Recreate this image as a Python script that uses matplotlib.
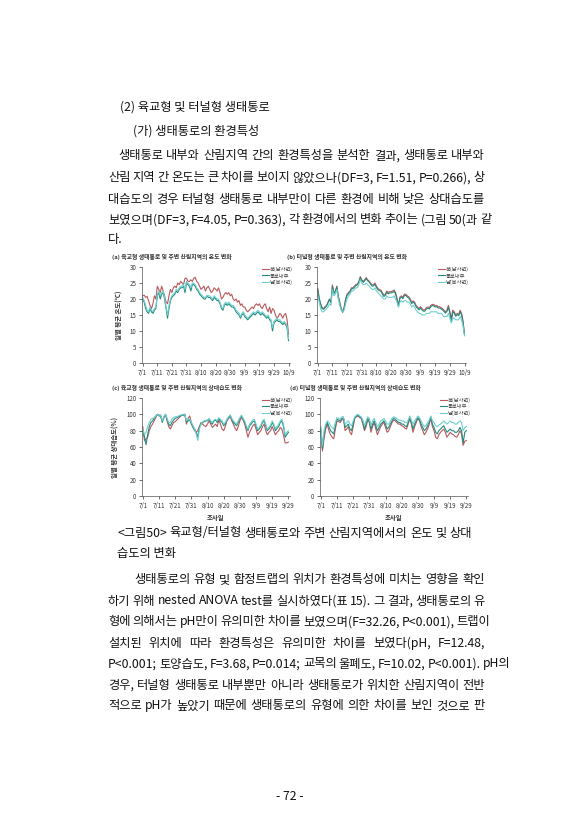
import matplotlib
matplotlib.use('Agg')
import matplotlib.pyplot as plt
import numpy as np

plt.rcParams['font.family'] = ['Noto Sans CJK KR', 'DejaVu Sans']

# ---- data ----
temp_ticks = ['7/1', '7/11', '7/21', '7/31', '8/10', '8/20', '8/30', '9/9', '9/19', '9/29', '10/9']
rh_ticks = ['7/1', '7/11', '7/21', '7/31', '8/10', '8/20', '8/30', '9/9', '9/19', '9/29']
series_names = ['북(남사면)', '통로내부', '남(북사면)']

# (a) overpass type, daily mean temperature 7/1 - 10/10
a_north = [21, 21.2, 20.5, 20.8, 19.5, 18, 17, 18.5, 21, 20,
           24, 23, 22, 24, 22.5, 21, 19, 18.5, 21, 23,
           22, 23.5, 24, 23.5, 25, 24.5, 25.5, 25, 24.5, 26.5,
           26.5, 25.5, 25.5, 26, 25.5, 26.5, 26.8, 25.5, 25, 24,
           23, 23.5, 24, 22.5, 23.5, 24, 23, 22, 22.5, 23.5,
           23, 22.5, 23.5, 22, 20, 20.5, 21.5, 22, 21.5, 22,
           21, 21.5, 20, 19.5, 20, 19, 19.5, 18, 18.5, 17.5,
           17.5, 16.5, 16, 16.5, 17, 17.5, 17, 18, 18.5, 18,
           18.5, 17.5, 17, 18, 18.5, 17, 16, 17.5, 15.5, 17,
           16.5, 15, 14, 14.5, 15.5, 15, 14, 15, 15.5, 13.5, 9]
a_inside = [20, 19, 17, 16, 15.5, 17, 16, 15.5, 16.5, 17,
            21, 22, 20, 21.5, 22, 20, 17, 14, 17, 19.5,
            20.5, 21, 21.5, 22.5, 22, 23, 23.5, 23.5, 24, 22,
            25, 24.5, 24, 22.5, 24.5, 24.5, 24, 23, 22.5, 21.5,
            21, 20.5, 20, 20, 21, 20.5, 20.5, 20, 19.5, 20.5,
            20, 19.5, 19.5, 18.5, 17, 16.5, 18, 18.5, 18, 18.5,
            18, 17.5, 17.5, 17, 16, 15.5, 15, 14, 15, 15.5,
            14.5, 14, 13.5, 14, 14.5, 15, 15.5, 15, 15.5, 16,
            15.5, 15, 15.5, 15, 14.5, 14, 14.5, 13.5, 13, 10,
            12.5, 13, 13.5, 13, 13, 12.5, 12, 12.5, 12, 11, 7]
a_south = [20.5, 19.5, 18, 16.5, 16, 17.5, 16.5, 16, 17, 17.5,
           21.5, 22.5, 21, 22, 22.5, 20.5, 17.5, 15, 18, 20,
           21, 21.5, 22, 23, 22.5, 23.5, 24, 24, 24.5, 23,
           25.5, 25, 24.5, 23.5, 25, 25, 24.5, 23.5, 23, 22,
           21.5, 21, 20.5, 20.5, 21, 21, 21, 20.5, 20, 21,
           20.5, 20, 20, 19, 17.5, 17, 18.5, 19, 18.5, 19,
           18.5, 18, 18, 17.5, 16.5, 16, 15.5, 14.5, 15.5, 16,
           15, 14.5, 14, 14.5, 15, 15.5, 16, 15.5, 16, 16.5,
           16, 15.5, 16, 15.5, 15, 14.5, 15, 14, 13.5, 11,
           13, 13.5, 14, 13.5, 13.5, 13, 12.5, 13, 12.5, 11.5, 7.5]

# (b) tunnel type, daily mean temperature 7/1 - 10/10
b_north = [23.3, 20.2, 18.5, 17.3, 17, 17.6, 18, 19, 20, 19,
           24.4, 22, 22.5, 24, 21, 19, 17, 16, 17.5, 20,
           21.5, 22, 22.5, 23.5, 23.5, 24, 24.5, 24.7, 25.5, 27,
           26, 25.5, 26, 26.7, 26, 25.6, 25, 24.4, 24.5, 25,
           24, 23.3, 23, 22.8, 22, 21.2, 21.5, 22.5, 22, 22.3,
           22.3, 22.5, 22.8, 22, 20.2, 18, 20.6, 21, 20.5, 21.5,
           21.5, 21, 20.7, 20, 19, 19.4, 19, 18, 17.5, 17,
           17.6, 17, 16.6, 16.6, 17.3, 17.5, 17.3, 18, 18.3, 18.3,
           17.9, 18, 17.6, 17.6, 17.3, 17, 16.5, 16, 16.5, 18,
           16, 14, 16.5, 16, 15, 15.5, 15.2, 16.5, 15.5, 13, 9]
b_inside = [23, 20, 18.3, 17, 16.8, 17.3, 17.8, 18.8, 19.8, 18.8,
            24, 21.7, 22.2, 23.8, 20.7, 18.7, 16.8, 15.8, 17.2, 19.7,
            21.2, 21.7, 22.2, 23.2, 23.2, 23.7, 24.2, 24.4, 25.2, 26.7,
            25.7, 25.2, 25.7, 26.4, 25.7, 25.3, 24.7, 24, 24.1, 24.6,
            23.6, 22.9, 22.6, 22.4, 21.6, 20.8, 21.1, 22.1, 21.6, 21.9,
            21.9, 22.1, 22.4, 21.6, 19.8, 17.6, 20.2, 20.6, 20.1, 21.1,
            21.1, 20.6, 20.3, 19.6, 18.6, 19, 18.6, 17.6, 17.1, 16.6,
            17.2, 16.6, 16.2, 16.2, 16.9, 17.1, 16.9, 17.6, 17.9, 17.9,
            17.5, 17.6, 17.2, 17.2, 16.9, 16.6, 16.1, 15.6, 16.1, 17.5,
            15.6, 13, 16, 15.6, 14.6, 15.1, 14.8, 16, 15, 12.5, 8.7]
b_south = [21, 19, 17, 16, 16, 16.5, 17, 17.5, 18.5, 18,
           23, 21, 21.5, 23, 20, 18, 16.5, 16, 16.5, 18.5,
           20, 21, 21.5, 22.5, 22.5, 23, 23.5, 23.5, 24.5, 26,
           25, 24.5, 24.5, 25, 24.5, 24, 23.5, 23, 23, 23.5,
           22.5, 22, 21.5, 21, 20.5, 20, 20, 21, 20.5, 20.5,
           20.5, 20.5, 21, 20, 19, 17.5, 19, 19.5, 19, 19.5,
           19.5, 19, 19, 18.5, 17.5, 18, 17.5, 16.5, 16, 15.5,
           15.5, 15, 15, 15, 15.5, 15.5, 15.5, 16, 16, 16,
           16, 16, 15.5, 15.5, 15.5, 15, 14.5, 14.5, 14.5, 15.5,
           14, 12.5, 14, 14, 13.5, 13.5, 13.5, 14.5, 13.5, 11.5, 8.5]

# (c) overpass type, daily mean relative humidity 7/1 - 9/30
c_north = [85, 68, 70, 72, 80, 85, 88, 92, 96, 100,
           99, 99, 92, 96, 100, 92, 85, 82, 86, 90,
           91, 93, 95, 97, 99, 99, 100, 88, 95, 98,
           90, 85, 82, 78, 80, 85, 90, 88, 86, 85,
           88, 92, 88, 84, 86, 88, 85, 93, 88, 82,
           80, 85, 92, 95, 97, 92, 88, 83, 80, 85,
           92, 96, 93, 88, 80, 72, 78, 82, 86, 88,
           82, 75, 78, 80, 85, 88, 80, 75, 78, 80,
           85, 80, 75, 78, 80, 84, 82, 74, 65, 65, 66]
c_inside = [80, 72, 63, 75, 85, 90, 92, 95, 98, 100,
            98, 98, 90, 96, 100, 94, 88, 86, 90, 93,
            95, 96, 97, 98, 99, 99, 100, 90, 92, 93,
            88, 84, 80, 78, 72, 85, 88, 90, 91, 92,
            92, 94, 90, 88, 92, 93, 90, 95, 92, 90,
            86, 88, 93, 96, 99, 94, 90, 88, 86, 90,
            95, 98, 94, 90, 84, 80, 86, 88, 91, 92,
            86, 80, 82, 85, 90, 92, 86, 80, 82, 85,
            90, 86, 80, 83, 85, 90, 92, 85, 72, 75, 78]
c_south = [82, 75, 78, 85, 90, 94, 95, 96, 98, 100,
           99, 99, 92, 97, 100, 95, 90, 90, 94, 96,
           97, 97, 98, 99, 99, 100, 100, 92, 94, 94,
           90, 86, 82, 76, 68, 82, 88, 91, 92, 93,
           93, 95, 92, 90, 93, 94, 92, 96, 94, 92,
           88, 90, 94, 97, 99, 95, 92, 90, 88, 92,
           96, 99, 95, 92, 86, 82, 88, 90, 93, 94,
           88, 82, 84, 87, 92, 94, 88, 82, 84, 87,
           92, 88, 83, 85, 88, 92, 94, 88, 75, 78, 80]

# (d) tunnel type, daily mean relative humidity 7/1 - 9/30
d_north = [80, 55, 70, 82, 88, 80, 75, 72, 70, 82,
           92, 91, 90, 93, 95, 80, 82, 85, 78, 75,
           85, 95, 97, 98, 96, 95, 88, 80, 85, 93,
           90, 78, 85, 90, 82, 75, 80, 85, 88, 90,
           84, 78, 80, 85, 90, 93, 92, 90, 88, 88,
           86, 85, 83, 82, 88, 95, 88, 78, 85, 90,
           95, 92, 85, 80, 75, 78, 82, 88, 95, 85,
           80, 72, 70, 75, 78, 80, 82, 78, 72, 75,
           78, 76, 75, 73, 72, 75, 80, 76, 62, 67, 68]
d_inside = [82, 58, 75, 85, 90, 85, 80, 78, 76, 86,
            94, 93, 92, 95, 96, 84, 86, 88, 82, 80,
            88, 96, 98, 99, 97, 96, 90, 82, 88, 95,
            92, 82, 88, 92, 86, 80, 84, 88, 90, 92,
            88, 82, 84, 88, 92, 95, 94, 92, 90, 90,
            88, 88, 86, 85, 90, 96, 90, 82, 88, 92,
            96, 94, 88, 84, 80, 82, 86, 90, 97, 88,
            84, 78, 76, 80, 82, 84, 86, 82, 78, 80,
            82, 80, 80, 78, 78, 80, 84, 80, 65, 78, 80]
d_south = [85, 62, 80, 88, 92, 90, 86, 84, 82, 90,
           96, 95, 94, 97, 97, 88, 90, 92, 88, 86,
           92, 97, 99, 100, 98, 97, 93, 86, 92, 97,
           95, 86, 92, 95, 90, 85, 88, 92, 93, 95,
           92, 88, 88, 92, 95, 97, 96, 95, 93, 93,
           92, 92, 90, 90, 93, 98, 93, 88, 92, 95,
           98, 96, 92, 88, 85, 86, 90, 93, 98, 92,
           90, 86, 85, 87, 88, 90, 92, 90, 88, 90,
           92, 90, 90, 88, 88, 90, 92, 90, 80, 84, 85]

colors = ['#b85a5e', '#23897c', '#6fcfcf']

W, H = 582, 840
fig = plt.figure(figsize=(W / 100, H / 100), dpi=100)
fig.patch.set_facecolor('white')


def px_axes(l, t, r, b):
    return fig.add_axes([l / W, 1 - b / H, (r - l) / W, (b - t) / H])


def draw_panel(box, title, data, ticks, ylim, yticks, ylabel=None, xlabel=None):
    ax = px_axes(*box)
    n = len(data[0])
    x = np.arange(n)
    for s, c, name in zip(data, colors, series_names):
        ax.plot(x, s, color=c, lw=0.8, label=name)
    ax.set_xlim(-0.5, (len(ticks) - 1) * 10 + 1)
    ax.set_ylim(*ylim)
    ax.set_xticks(np.arange(len(ticks)) * 10)
    ax.set_xticklabels(ticks)
    ax.set_yticks(yticks)
    for sp in ['top', 'right']:
        ax.spines[sp].set_visible(False)
    for sp in ['left', 'bottom']:
        ax.spines[sp].set_linewidth(0.5)
        ax.spines[sp].set_color('#555555')
    ax.tick_params(labelsize=4.4, length=2, width=0.5, pad=2, colors='#333333')
    ax.text(-0.2, 1.1, title, transform=ax.transAxes, fontsize=4.2,
            fontweight='bold', color='#333333', ha='left', va='center')
    if ylabel:
        ax.set_ylabel(ylabel, fontsize=4.6, fontweight='bold', labelpad=5, color='#333333')
    if xlabel:
        ax.set_xlabel(xlabel, fontsize=4.6, fontweight='bold', labelpad=3, color='#333333')
    leg = ax.legend(loc='upper right', bbox_to_anchor=(1.04, 1.04), fontsize=3.8,
                    frameon=False, handlelength=1.2, handletextpad=0.2,
                    labelspacing=0.25, borderaxespad=0.2)
    for t in leg.get_texts():
        t.set_color('#444444')
    return ax


draw_panel((142, 267, 290, 363), '(a) 육교형 생태통로 및 주변 산림지역의 온도 변화',
           [a_north, a_inside, a_south], temp_ticks, (0, 30), range(0, 31, 5),
           ylabel='일별 평균 온도(℃)')
draw_panel((317, 267, 466, 363), '(b) 터널형 생태통로 및 주변 산림지역의 온도 변화',
           [b_north, b_inside, b_south], temp_ticks, (0, 30), range(0, 31, 5))
draw_panel((142, 398, 290, 496), '(c) 육교형 생태통로 및 주변 산림지역의 상대습도 변화',
           [c_north, c_inside, c_south], rh_ticks, (0, 120), range(0, 121, 20),
           ylabel='일별 평균 상대습도(%)', xlabel='조사일')
draw_panel((320, 398, 468, 496), '(d) 터널형 생태통로 및 주변 산림지역의 상대습도 변화',
           [d_north, d_inside, d_south], rh_ticks, (0, 120), range(0, 121, 20),
           xlabel='조사일')

# ---- page text ----
FS = 8.8
renderer = fig.canvas.get_renderer()


def put(s, x, y, fs=FS):
    return fig.text(x / W, 1 - y / H, s, fontsize=fs, ha='left', va='center', color='#111111')


def justify(s, x0, x1, y, fs=FS):
    words = s.split(' ')
    arts = [put(w, x0, y, fs) for w in words]
    widths = [a.get_window_extent(renderer).width for a in arts]
    gap = max((x1 - x0 - sum(widths)) / max(len(words) - 1, 1), 2.0)
    x = x0
    for a, w in zip(arts, widths):
        a.set_x(x / W)
        x += w + gap


L, R = 108, 485
put('(2) 육교형 및 터널형 생태통로', 120, 107)
put('(가) 생태통로의 환경특성', 133, 131)
justify('생태통로 내부와 산림지역 간의 환경특성을 분석한 결과, 생태통로 내부와', 118, R, 156)
justify('산림 지역 간 온도는 큰 차이를 보이지 않았으나(DF=3, F=1.51, P=0.266), 상', L, R, 178)
justify('대습도의 경우 터널형 생태통로 내부만이 다른 환경에 비해 낮은 상대습도를', L, R, 199)
justify('보였으며(DF=3, F=4.05, P=0.363), 각 환경에서의 변화 추이는 (그림 50(과 같', L, R, 220)
put('다.', L, 239)

justify('<그림50> 육교형/터널형 생태통로와 주변 산림지역에서의 온도 및 상대', 117, 472, 533)
put('습도의 변화', 117, 553)

justify('생태통로의 유형 및 함정트랩의 위치가 환경특성에 미치는 영향을 확인', 134, R, 580)
justify('하기 위해 nested ANOVA test를 실시하였다(표 15). 그 결과, 생태통로의 유', L, R, 601)
justify('형에 의해서는 pH만이 유의미한 차이를 보였으며(F=32.26, P<0.001), 트랩이', L, R, 622)
justify('설치된 위치에 따라 환경특성은 유의미한 차이를 보였다(pH, F=12.48,', L, R, 643)
justify('P<0.001; 토양습도, F=3.68, P=0.014; 교목의 울폐도, F=10.02, P<0.001). pH의', L, R, 664)
justify('경우, 터널형 생태통로 내부뿐만 아니라 생태통로가 위치한 산림지역이 전반', L, R, 685)
justify('적으로 pH가 높았기 때문에 생태통로의 유형에 의한 차이를 보인 것으로 판', L, R, 706)

fig.text(290 / W, 1 - 797 / H, '- 72 -', fontsize=FS, ha='center', va='center', color='#111111')

fig.savefig('out.png', dpi=100)
